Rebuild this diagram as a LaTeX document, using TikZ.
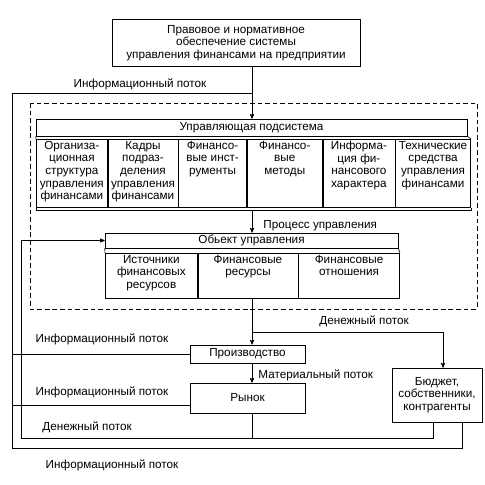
\documentclass[tikz,border=0pt]{standalone}
\usepackage{fontspec}
\setmainfont{Liberation Sans}
\usepackage{tikz}
\usetikzlibrary{arrows,positioning}
\newcommand{\pxu}{0.03cm}

\begin{document}
\begin{tikzpicture}[x=0.03cm,y=-0.03cm,>=stealth',line width=0.55pt,
    font=\fontsize{10}{10.8}\selectfont]
    \tikzstyle{format}=[rectangle,draw,fill=white,inner sep=1pt,align=center]  % блоки
    \tikzstyle{cell}=[rectangle,draw,anchor=north west,inner sep=0pt,minimum height=68*\pxu]  % ячейки
    \tikzstyle{celltext}=[anchor=north,align=center,inner sep=1.5pt]  % текст ячеек
    \tikzstyle{lbl}=[inner sep=1pt]  % подписи потоков
    \tikzstyle{point}=[coordinate]

    \useasboundingbox (0,0) rectangle (485,485);

    % вспомогательные точки
    \coordinate (spine) at (252,0);
    \coordinate (bx1) at (433,0);
    \coordinate (bx2) at (462,0);
    \coordinate (bin) at (443,0);
    \coordinate (xin) at (21,438);
    \coordinate (xout) at (12,448);
    \coordinate (ytop) at (0,93);
    \coordinate (mfork) at (252,332);
    \coordinate (mline) at (0,405);
    \coordinate (ctrlend) at (252,210);

    % правовое обеспечение
    \node[format,minimum width=248*\pxu,minimum height=47*\pxu](law) at (236,43)
        {Правовое и нормативное\\обеспечение системы\\управления финансами на предприятии};

    % управляющая подсистема
    \draw[dashed,dash pattern=on 4pt off 2.5pt] (30,103) rectangle (477,309);
    \node[format,minimum width=431*\pxu,minimum height=17*\pxu](ctrl) at (251.5,127.5){Управляющая подсистема};
    \node[cell,minimum width=71*\pxu](org) at (36,139){};
    \node[cell,minimum width=70*\pxu,right=0pt of org](staff){};
    \node[cell,minimum width=68*\pxu,right=0pt of staff](tools){};
    \node[cell,minimum width=75*\pxu,right=0pt of tools](meth){};
    \node[cell,minimum width=72*\pxu,right=0pt of meth](info){};
    \node[cell,minimum width=75*\pxu,right=0pt of info](tech){};
    \node[celltext](orgt) at (org.north){Организа-\\ционная\\структура\\управления\\финансами};
    \node[celltext](stafft) at (staff.north){Кадры\\подраз-\\деления\\управления\\финансами};
    \node[celltext](toolst) at (tools.north){Финансо-\\вые инст-\\рументы};
    \node[celltext](metht) at (meth.north){Финансо-\\вые\\методы};
    \node[celltext](infot) at (info.north){Информа-\\ция фи-\\нансового\\характера};
    \node[celltext](techt) at (tech.north){Технические\\средства\\управления\\финансами};
    \draw (org.north west) -- (ctrl.south west);
    \draw (tech.north east) -- (ctrl.south east);
    \draw (org.south west) -- ++(0,3) -| (tech.south east);

    % объект управления
    \node[format,minimum width=293*\pxu,minimum height=15*\pxu](obj) at (251.5,240.5){Обьект управления};
    \node[cell,minimum width=92*\pxu,minimum height=45*\pxu](src) at (105,253){};
    \node[cell,minimum width=100*\pxu,minimum height=45*\pxu,right=0pt of src](res){};
    \node[cell,minimum width=101*\pxu,minimum height=45*\pxu,right=0pt of res](rel){};
    \node[celltext](srct) at (src.north){Источники\\финансовых\\ресурсов};
    \node[celltext](rest) at (res.north){Финансовые\\ресурсы};
    \node[celltext](relt) at (rel.north){Финансовые\\отношения};
    \draw (src.north west) -- (obj.south west);
    \draw (rel.north east) -- (obj.south east);

    % производство, рынок, бюджет
    \node[format,minimum width=115*\pxu,minimum height=18*\pxu](prod) at (247.5,354){Производство};
    \node[format,minimum width=115*\pxu,minimum height=30*\pxu](market) at (247.5,398){Рынок};
    \node[format,minimum width=90*\pxu,minimum height=54*\pxu](budget) at (437,395)
        {Бюджет,\\собственники,\\контрагенты};

    % подписи
    \node[lbl](info1) at (140,84){Информационный поток};
    \node[lbl,anchor=west](proc) at (262,226){Процесс управления};
    \node[lbl](money1) at (364,321){Денежный поток};
    \node[lbl](info2) at (102,339){Информационный поток};
    \node[lbl,anchor=west](mat) at (257,375){Материальный поток};
    \node[lbl](info3) at (102,392){Информационный поток};
    \node[lbl](money2) at (87,427){Денежный поток};
    \node[lbl](info4) at (112,465){Информационный поток};

    % линии
    \draw[->](law.south -| spine) -- (ctrl.north -| spine);
    \draw[->](ctrlend) -- (obj.north -| spine);
    \draw[->](res.south -| spine) -- (prod.north -| spine);
    \draw[->](mfork) -| (budget.north -| bin);
    \draw[->](prod.south -| spine) -- (market.north -| spine);
    \draw(market.south -| spine) -- (spine |- xin);
    \draw[->](budget.south -| bx1) |- (xin) |- (obj.west);
    \draw(budget.south -| bx2) |- (xout) |- (ytop -| spine);
    \draw(xout |- prod.west) -- (prod.west);
    \draw(xout |- mline) -- (market.west |- mline);
\end{tikzpicture}
\end{document}
